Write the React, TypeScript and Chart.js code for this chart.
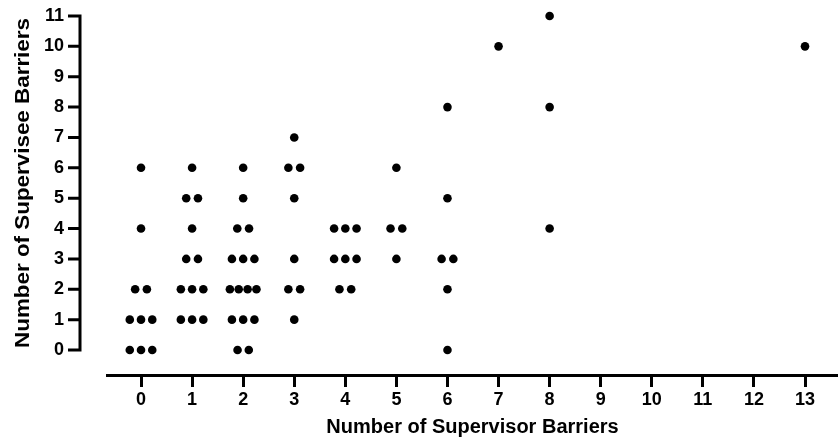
import { useEffect, useRef } from "react";
import { Chart, registerables } from "chart.js";

Chart.register(...registerables);

// Jittered column scatter: x = supervisor barriers (with read horizontal spread), y = supervisee barriers
const supervisorBarriers = [
  // 0
  0, 0, -0.115, 0.115, -0.22, 0, 0.22, -0.22, 0, 0.22,
  // 1
  1, 0.885, 1.115, 1, 0.885, 1.115, 0.78, 1, 1.22, 0.78, 1, 1.22,
  // 2
  2, 2, 1.885, 2.115, 1.78, 2, 2.22, 1.74, 1.913, 2.087, 2.26, 1.78, 2, 2.22, 1.89, 2.11,
  // 3
  3, 2.885, 3.115, 3, 3, 2.885, 3.115, 3,
  // 4
  3.78, 4, 4.22, 3.78, 4, 4.22, 3.885, 4.115,
  // 5
  5, 4.885, 5.115, 5,
  // 6
  6, 6, 5.885, 6.115, 6, 6,
  // 7
  7,
  // 8
  8, 8, 8,
  // 13
  13,
];

const superviseeBarriers = [
  // 0
  6, 4, 2, 2, 1, 1, 1, 0, 0, 0,
  // 1
  6, 5, 5, 4, 3, 3, 2, 2, 2, 1, 1, 1,
  // 2
  6, 5, 4, 4, 3, 3, 3, 2, 2, 2, 2, 1, 1, 1, 0, 0,
  // 3
  7, 6, 6, 5, 3, 2, 2, 1,
  // 4
  4, 4, 4, 3, 3, 3, 2, 2,
  // 5
  6, 4, 4, 3,
  // 6
  8, 5, 3, 3, 2, 0,
  // 7
  10,
  // 8
  11, 8, 4,
  // 13
  10,
];

const xTickValues = [0, 1, 2, 3, 4, 5, 6, 7, 8, 9, 10, 11, 12, 13];
const yTickValues = [0, 1, 2, 3, 4, 5, 6, 7, 8, 9, 10, 11];
const xTitle = "Number of Supervisor Barriers";
const yTitle = "Number of Supervisee Barriers";

const FONT = "'Liberation Sans', Arial, Helvetica, sans-serif";

const prismYAxis = {
  id: "prismYAxis",
  afterDraw(chart: any) {
    const { ctx, chartArea } = chart;
    const ys = chart.scales.y;
    const x0 = chartArea.left - 27;
    const yBottom = ys.getPixelForValue(yTickValues[0]);
    const yTop = ys.getPixelForValue(yTickValues[yTickValues.length - 1]);
    ctx.save();
    ctx.strokeStyle = "#000";
    ctx.lineWidth = 3;
    ctx.lineCap = "butt";
    ctx.beginPath();
    ctx.moveTo(x0, yBottom + 1.5);
    ctx.lineTo(x0, yTop - 1.5);
    for (const v of yTickValues) {
      const py = ys.getPixelForValue(v);
      ctx.moveTo(x0 - 12, py);
      ctx.lineTo(x0 + 1.5, py);
    }
    ctx.stroke();

    // axis title
    ctx.translate(29, (yBottom + yTop) / 2);
    ctx.rotate(-Math.PI / 2);
    ctx.scale(1.12, 1);
    ctx.fillStyle = "#000";
    ctx.font = `bold 20px ${FONT}`;
    ctx.textAlign = "center";
    ctx.textBaseline = "alphabetic";
    ctx.fillText(yTitle, 0, 0);
    ctx.restore();
  },
};

export default function App() {
  const canvasRef = useRef<HTMLCanvasElement | null>(null);

  useEffect(() => {
    document.body.style.margin = "0";
    document.body.style.overflow = "hidden";
    const canvas = canvasRef.current;
    if (!canvas) return;

    const points = supervisorBarriers.map((x, i) => ({ x, y: superviseeBarriers[i] }));

    const chart = new Chart(canvas, {
      type: "scatter",
      data: {
        datasets: [
          {
            data: points,
            backgroundColor: "#000",
            borderColor: "#000",
            borderWidth: 0,
            pointRadius: 4.3,
            pointHoverRadius: 4.3,
            clip: false as any,
          },
        ],
      },
      plugins: [prismYAxis],
      options: {
        animation: false,
        responsive: false,
        layout: { autoPadding: false, padding: { top: 16, right: 0, bottom: 0, left: 0 } },
        plugins: {
          legend: { display: false },
          tooltip: { enabled: false },
        },
        scales: {
          x: {
            type: "linear",
            position: "bottom",
            min: -0.666,
            max: 13.646,
            afterBuildTicks: (s: any) => {
              s.ticks = xTickValues.map((v) => ({ value: v }));
            },
            afterFit: (s: any) => {
              s.height = 66;
            },
            border: { display: true, color: "#000", width: 3 },
            grid: {
              display: true,
              drawOnChartArea: false,
              drawTicks: true,
              tickLength: 12,
              tickWidth: 3,
              tickColor: "#000",
              color: "#000",
              lineWidth: 3,
            },
            ticks: {
              color: "#000",
              font: { family: FONT, size: 18, weight: "bold" },
              padding: 2,
              maxRotation: 0,
              autoSkip: false,
            },
            title: {
              display: true,
              text: xTitle,
              color: "#000",
              font: { family: FONT, size: 20, weight: "bold" },
              padding: { top: 0, bottom: 2 },
            },
          },
          y: {
            type: "linear",
            min: -0.823,
            max: 11,
            afterBuildTicks: (s: any) => {
              s.ticks = yTickValues.map((v) => ({ value: v }));
            },
            afterFit: (s: any) => {
              s.width = 107;
            },
            border: { display: false },
            // hidden grid; its tick length only offsets the labels away from the plot
            grid: { display: false, drawTicks: true, tickLength: 40 },
            ticks: {
              color: "#000",
              font: { family: FONT, size: 18, weight: "bold" },
              padding: 3,
              autoSkip: false,
            },
          },
        },
      } as any,
    });

    return () => chart.destroy();
  }, []);

  return (
    <div style={{ width: 838, height: 441 }}>
      <canvas ref={canvasRef} width={838} height={441} style={{ display: "block", width: 838, height: 441 }} />
    </div>
  );
}
